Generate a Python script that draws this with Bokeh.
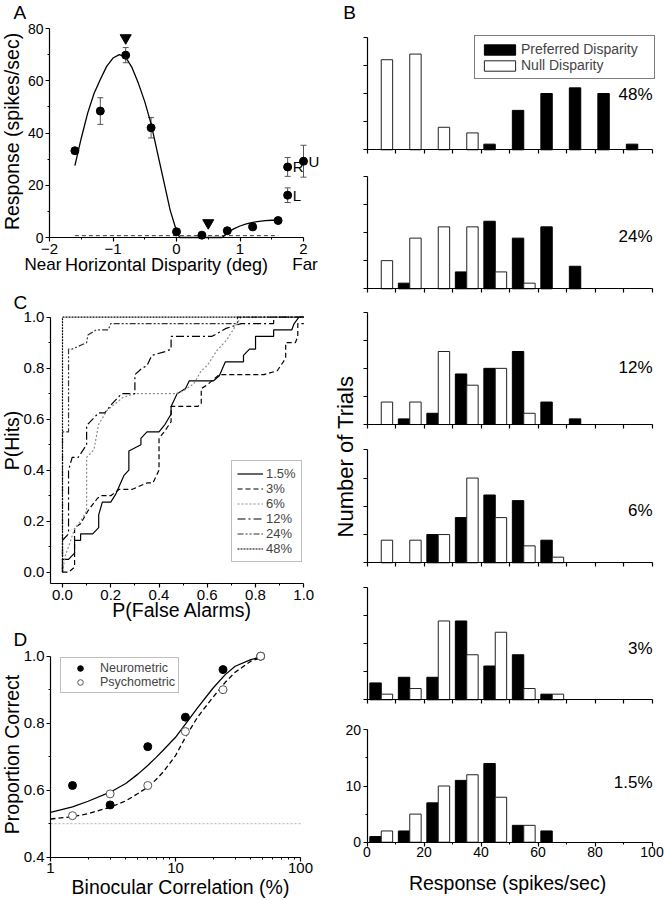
import numpy as np
from bokeh.plotting import figure
from bokeh.layouts import row, column
from bokeh.models import (Range1d, FixedTicker, NumeralTickFormatter, BasicTickFormatter,
                          Label, LabelSet, Legend, LegendItem, Whisker, TeeHead,
                          ColumnDataSource, LinearAxis)
from bokeh.transform import dodge
from bokeh.core.properties import value
from bokeh.embed import file_html
from bokeh.resources import INLINE

FONT = "Liberation Sans"

# ================= Panel A : disparity tuning =================
disparity = [-1.6, -1.2, -0.8, -0.4, 0.0, 0.4, 0.8, 1.2, 1.6]
response = [33.2, 48.4, 69.8, 42.0, 2.2, 0.9, 2.6, 4.1, 6.5]
response_sem = [1.0, 5.1, 2.9, 3.9, 0.8, 0.5, 0.8, 1.2, 0.8]
mono_disp = [1.75, 1.75, 2.0]
mono_resp = [27.0, 16.2, 29.2]
mono_sem = [3.6, 2.8, 6.1]
mono_label = ["R", "L", "U"]
marker_disp = [-0.8, 0.5]
marker_resp = [76.4, 5.6]
fit_disp = [-1.6, -1.5, -1.4, -1.3, -1.2, -1.1, -1.0, -0.9, -0.8, -0.7, -0.6, -0.5, -0.4,
            -0.3, -0.2, -0.1, 0.0, 0.05, 0.72, 0.8, 0.9, 1.0, 1.1, 1.2, 1.3, 1.4, 1.5, 1.6]
fit_resp = [27.5, 38.0, 47.5, 55.0, 60.5, 65.5, 68.7, 70.0, 69.0, 65.0, 59.0, 52.0, 43.5,
            32.5, 21.5, 10.5, 2.5, 0.0, 0.0, 1.8, 3.3, 4.4, 5.2, 5.8, 6.2, 6.45, 6.6, 6.6]
spont_level = 0.7
spont_disp = [-1.6, 1.6]

# ================= Panel B : response histograms =================
bin_center = [5, 15, 25, 35, 45, 55, 65, 75, 85, 95]
pref_48 = [0, 0, 0, 0, 1, 7, 10, 11, 10, 1]
null_48 = [16, 17, 4, 3, 0, 0, 0, 0, 0, 0]
pref_24 = [0, 1, 0, 3, 12, 9, 11, 4, 0, 0]
null_24 = [5, 9, 11, 11, 3, 1, 0, 0, 0, 0]
pref_12 = [0, 1, 2, 9, 10, 13, 4, 1, 0, 0]
null_12 = [4, 4, 13, 7, 10, 2, 0, 0, 0, 0]
pref_6 = [0, 0, 5, 8, 12, 11, 4, 0, 0, 0]
null_6 = [4, 4, 5, 15, 8, 3, 1, 0, 0, 0]
pref_3 = [3, 4, 4, 14, 6, 8, 1, 0, 0, 0]
null_3 = [1, 2, 14, 8, 12, 2, 1, 0, 0, 0]
pref_15 = [1, 2, 7, 11, 14, 3, 2, 0, 0, 0]
null_15 = [2, 5, 10, 12, 8, 3, 0, 0, 0, 0]
hist_labels = ["48%", "24%", "12%", "6%", "3%", "1.5%"]

# ================= Panel C : ROC curves =================
roc_labels = ["1.5%", "3%", "6%", "12%", "24%", "48%"]
roc15_fa = [0, 0, 0.025, 0.05, 0.05, 0.075, 0.075, 0.125, 0.15, 0.15, 0.165, 0.2, 0.22, 0.255,
            0.275, 0.275, 0.325, 0.325, 0.35, 0.4, 0.425, 0.45, 0.45, 0.475, 0.51, 0.525, 0.625,
            0.65, 0.675, 0.75, 0.75, 0.775, 0.8, 0.8, 0.875, 0.875, 0.95, 0.96, 0.98, 1.0]
roc15_hit = [0, 0.05, 0.05, 0.075, 0.125, 0.125, 0.15, 0.15, 0.175, 0.225, 0.275, 0.275, 0.305,
             0.38, 0.4, 0.475, 0.5, 0.525, 0.55, 0.55, 0.58, 0.62, 0.65, 0.7, 0.72, 0.75, 0.75,
             0.77, 0.825, 0.825, 0.85, 0.875, 0.875, 0.925, 0.925, 0.95, 0.95, 0.975, 1.0, 1.0]
roc3_fa = [0, 0.025, 0.05, 0.05, 0.075, 0.105, 0.145, 0.16, 0.2, 0.235, 0.29, 0.325, 0.35, 0.375,
           0.39, 0.4, 0.4, 0.425, 0.45, 0.45, 0.56, 0.575, 0.575, 0.6, 0.65, 0.835, 0.89, 0.915,
           0.925, 0.925, 0.965, 0.975, 0.975, 1.0]
roc3_hit = [0, 0, 0.02, 0.175, 0.19, 0.24, 0.29, 0.3, 0.3, 0.325, 0.325, 0.34, 0.35, 0.35, 0.38,
            0.4, 0.525, 0.555, 0.59, 0.65, 0.65, 0.66, 0.72, 0.735, 0.775, 0.775, 0.79, 0.825,
            0.84, 0.9, 0.9, 0.925, 0.975, 0.975]
roc6_fa = [0, 0.01, 0.025, 0.05, 0.075, 0.1, 0.1, 0.13, 0.15, 0.185, 0.25, 0.3, 0.47, 0.5,
           0.545, 0.575, 0.6, 0.64, 0.68, 0.71, 0.74, 1.0]
roc6_hit = [0, 0.06, 0.1, 0.17, 0.2, 0.24, 0.45, 0.48, 0.58, 0.635, 0.685, 0.7, 0.7, 0.71,
            0.74, 0.79, 0.81, 0.87, 0.91, 0.955, 1.0, 1.0]
roc12_fa = [0, 0, 0.025, 0.025, 0.04, 0.065, 0.1, 0.1, 0.15, 0.175, 0.205, 0.245, 0.3, 0.3,
            0.33, 0.35, 0.37, 0.425, 0.45, 0.45, 0.62, 0.675, 0.74, 0.875, 0.875, 1.0]
roc12_hit = [0, 0.125, 0.15, 0.4, 0.45, 0.45, 0.5, 0.575, 0.625, 0.625, 0.66, 0.7, 0.7, 0.775,
             0.8, 0.81, 0.85, 0.865, 0.875, 0.925, 0.925, 0.955, 0.975, 0.975, 1.0, 1.0]
roc24_fa = [0, 0, 0.025, 0.025, 0.04, 0.1, 0.105, 0.14, 0.19, 0.2, 0.725, 0.725, 1.0]
roc24_hit = [0, 0.55, 0.55, 0.875, 0.875, 0.9, 0.93, 0.95, 0.95, 0.975, 0.975, 1.0, 1.0]
roc48_fa = [0, 0, 1.0]
roc48_hit = [0, 1.0, 1.0]

# ================= Panel D : neurometric / psychometric =================
correlation = [1.5, 3, 6, 12, 24, 48]
neuro_pc = [0.614, 0.556, 0.730, 0.818, 0.960, 1.0]
psycho_pc = [0.524, 0.589, 0.614, 0.775, 0.900, 1.0]
fit_corr = [1, 1.5, 2, 3, 4, 5, 6, 7, 8, 10, 12, 15, 20, 25, 30, 40, 48]
neuro_fit = [0.534, 0.55, 0.567, 0.594, 0.62, 0.648, 0.674, 0.698, 0.72, 0.758, 0.797, 0.846,
             0.905, 0.945, 0.97, 0.99, 0.997]
psycho_fit = [0.514, 0.521, 0.53, 0.549, 0.568, 0.59, 0.609, 0.632, 0.655, 0.703, 0.758, 0.818,
              0.878, 0.922, 0.952, 0.985, 0.995]
corr_axis = [1, 100]
chance = 0.5


# ---------------- helpers ----------------
def lin(p0, p1, v0, v1):
    """map a page pixel coordinate to a data value (layout helper)"""
    return lambda px: v0 + (px - p0) * (v1 - v0) / (p1 - p0)


def style_axis(ax, fs="15px"):
    ax.axis_line_color = "black"
    ax.axis_line_width = 1.2
    ax.major_tick_line_color = "black"
    ax.major_tick_line_width = 1.2
    ax.minor_tick_line_color = "black"
    ax.minor_tick_line_width = 1.0
    ax.major_tick_in = 0
    ax.major_tick_out = 4
    ax.minor_tick_in = 0
    ax.minor_tick_out = 2
    ax.major_label_text_font = FONT
    ax.major_label_text_font_size = fs
    ax.major_label_text_color = "black"
    ax.major_label_standoff = 2


def make_fig(w, h, xr, yr, xlog=False, axes=True):
    kw = dict(width=w, height=h, x_range=Range1d(*xr), y_range=Range1d(*yr),
              toolbar_location=None, output_backend="svg", min_border=0,
              background_fill_color="white", border_fill_color="white", outline_line_color=None)
    if xlog:
        kw["x_axis_type"] = "log"
    if not axes:
        kw["x_axis_location"] = None
        kw["y_axis_location"] = None
    p = figure(**kw)
    p.grid.visible = False
    for ax in p.axis:
        style_axis(ax)
    return p


def add_label(p, x, y, text, size, align="left", baseline="middle", angle=0.0, **kw):
    p.add_layout(Label(x=x, y=y, text=text, text_font=FONT, text_font_size=size,
                       text_align=align, text_baseline=baseline, angle=angle,
                       text_color="black", **kw))


# ================= Panel A (page box 0..330 x 0..290) =================
ax_ = lin(49, 303, -2.0, 2.0)
ay_ = lin(237, 28, 0.0, 80.0)
pA = make_fig(330, 290, (ax_(0), ax_(330)), (ay_(290), ay_(0)))
pA.xaxis.fixed_location = 0
pA.xaxis.bounds = (-2, 2)
pA.yaxis.fixed_location = -2
pA.yaxis.bounds = (0, 80)
pA.xaxis.ticker = FixedTicker(ticks=[-2, -1, 0, 1, 2], minor_ticks=[-1.5, -0.5, 0.5, 1.5])
pA.yaxis.ticker = FixedTicker(ticks=[0, 20, 40, 60, 80], minor_ticks=[10, 30, 50, 70])
pA.xaxis.major_label_text_font_size = "15px"
pA.yaxis.major_label_text_font_size = "14px"

pA.line(spont_disp, [spont_level] * len(spont_disp), line_color="#333333", line_width=1,
        line_dash="4 3")
pA.line(fit_disp, fit_resp, line_color="black", line_width=1.3)
all_x = disparity + mono_disp
all_y = response + mono_resp
all_e = response_sem + mono_sem
err_src = ColumnDataSource(dict(x=all_x, lo=[y - e for y, e in zip(all_y, all_e)],
                                up=[y + e for y, e in zip(all_y, all_e)]))
pA.add_layout(Whisker(source=err_src, base="x", lower="lo", upper="up", dimension="height",
                      line_color="#555555", line_width=1,
                      upper_head=TeeHead(size=6, line_color="#555555", line_width=1),
                      lower_head=TeeHead(size=6, line_color="#555555", line_width=1)))
pA.scatter(disparity, response, size=8, color="black")
pA.scatter(mono_disp, mono_resp, size=8, color="black")
pA.scatter(marker_disp, marker_resp, marker="inverted_triangle", size=11, color="black")
mono_src = ColumnDataSource(dict(x=mono_disp, y=mono_resp, t=mono_label))
pA.add_layout(LabelSet(x="x", y="y", text="t", source=mono_src, x_offset=5,
                       text_font=value(FONT), text_font_size=value("15px"),
                       text_baseline="middle", text_color="black"))
add_label(pA, ax_(13), ay_(11.5), "A", "19px")
add_label(pA, ax_(42.5), ay_(263.5), "Near", "17px", align="center")
add_label(pA, ax_(304.5), ay_(263.5), "Far", "17px", align="center")
add_label(pA, ax_(166), ay_(264.5), "Horizontal Disparity (deg)", "18px", align="center")
add_label(pA, ax_(11), ay_(131), "Response (spikes/sec)", "19.5px", align="center",
          angle=np.pi / 2)

# ================= Panel C (page box 0..330 x 290..622) =================
cx_ = lin(62, 303.3, 0.0, 1.0)
cy_ = lin(571.7, 316.7, 0.0, 1.0)
pC = make_fig(330, 332, (cx_(0), cx_(330)), (cy_(622), cy_(290)))
pC.xaxis.fixed_location = -0.045
pC.yaxis.fixed_location = -0.05
pC.xaxis.bounds = (-0.05, 1.0)
pC.yaxis.bounds = (-0.045, 1.0)
tk = [0, 0.2, 0.4, 0.6, 0.8, 1.0]
mtk = [0.1, 0.3, 0.5, 0.7, 0.9]
pC.xaxis.ticker = FixedTicker(ticks=tk, minor_ticks=mtk)
pC.yaxis.ticker = FixedTicker(ticks=tk, minor_ticks=mtk)
pC.xaxis.formatter = NumeralTickFormatter(format="0.0")
pC.yaxis.formatter = NumeralTickFormatter(format="0.0")

roc_series = [(roc15_fa, roc15_hit, "black", "solid"),
              (roc3_fa, roc3_hit, "black", "5 3"),
              (roc6_fa, roc6_hit, "#8c8c8c", "2 2"),
              (roc12_fa, roc12_hit, "black", "8 3 2 3"),
              (roc24_fa, roc24_hit, "#333333", "6 2 2 2 2 2"),
              (roc48_fa, roc48_hit, "black", "2 1")]
roc_items = []
for (fa, hit, col, dash), lab in zip(roc_series, roc_labels):
    r = pC.line(fa, hit, line_color=col, line_width=1.2, line_dash=dash)
    roc_items.append(LegendItem(label=lab, renderers=[r]))
legC = Legend(items=roc_items, location=(231, 60), padding=5, spacing=0, margin=0,
              glyph_width=26, glyph_height=15, label_height=15, label_standoff=3,
              label_text_font=FONT, label_text_font_size="13px",
              border_line_color="#808080", border_line_width=1.3)
pC.add_layout(legC)
add_label(pC, cx_(13), cy_(301.5), "C", "19px")
add_label(pC, cx_(181.7), cy_(609.5), "P(False Alarms)", "19.5px", align="center")
add_label(pC, cx_(11), cy_(440), "P(Hits)", "19.5px", align="center", angle=np.pi / 2)

# ================= Panel D (page box 0..330 x 622..900) =================
dlog_ = lin(50, 300, 0.0, 2.0)
dx_ = lambda px: 10 ** dlog_(px)
dy_ = lin(856.7, 655.7, 0.4, 1.0)
pD = make_fig(330, 278, (dx_(0), dx_(330)), (dy_(900), dy_(622)), xlog=True)
pD.xaxis.fixed_location = 0.4
pD.yaxis.fixed_location = 1
pD.xaxis.bounds = (1, 100)
pD.yaxis.bounds = (0.4, 1.0)
pD.xaxis.ticker = FixedTicker(ticks=[1, 10, 100],
                              minor_ticks=[2, 3, 4, 5, 6, 7, 8, 9, 20, 30, 40, 50, 60, 70, 80, 90])
pD.xaxis.formatter = BasicTickFormatter()
pD.yaxis.ticker = FixedTicker(ticks=[0.4, 0.6, 0.8, 1.0], minor_ticks=[0.5, 0.7, 0.9])
pD.yaxis.formatter = NumeralTickFormatter(format="0.0")
pD.line(corr_axis, [chance] * len(corr_axis), line_color="#b0b0b0", line_width=1,
        line_dash="2 2")
pD.line(fit_corr, neuro_fit, line_color="black", line_width=1.3)
pD.line(fit_corr, psycho_fit, line_color="black", line_width=1.3, line_dash="5 3")
rn = pD.scatter(correlation, neuro_pc, size=8, fill_color="black", line_color="black")
rp = pD.scatter(correlation, psycho_pc, size=8, fill_color="white", line_color="#555555")
legD = Legend(items=[LegendItem(label="Neurometric", renderers=[rn]),
                     LegendItem(label="Psychometric", renderers=[rp])],
              location=(60, 207), padding=3, spacing=0, margin=0,
              glyph_width=32, glyph_height=14, label_height=14, label_standoff=4,
              label_text_font=FONT, label_text_font_size="12.5px",
              border_line_color="#808080", border_line_width=1.3)
pD.add_layout(legD)
add_label(pD, dx_(13), dy_(638.5), "D", "19px")
add_label(pD, dx_(180), dy_(886.5), "Binocular Correlation (%)", "19.5px", align="center")
add_label(pD, dx_(11), dy_(754), "Proportion Correct", "19.5px", align="center",
          angle=np.pi / 2)

# ================= Panel B (page box 330..664 x 0..900, one figure) =================
# default ranges = page pixels (used for texts); each histogram has its own named ranges
pR = make_fig(334, 900, (330, 664), (900, 0), axes=False)
hx_ = lin(366.5, 651.5, 0.0, 100.0)
hist_data = [(pref_48, null_48), (pref_24, null_24), (pref_12, null_12),
             (pref_6, null_6), (pref_3, null_3), (pref_15, null_15)]
# page y of each histogram's top (20 trials) and baseline (0 trials)
hist_frame = [(36.7, 149.3), (175.7, 288.3), (311.7, 424.0),
              (449.3, 562.3), (586.7, 699.3), (729.3, 841.7)]
hist_label_y = [94, 236, 366.7, 510, 648, 782]
pR.extra_x_ranges = {"hx": Range1d(hx_(330), hx_(664))}
yranges = {}
for k, (top, base) in enumerate(hist_frame):
    hy_ = lin(base, top, 0.0, 20.0)
    yranges["h%d" % k] = Range1d(hy_(900), hy_(0))
pR.extra_y_ranges = yranges

cen = np.array(bin_center, dtype=float)
for k, ((pref, null), lab) in enumerate(zip(hist_data, hist_labels)):
    name = "h%d" % k
    bottom = (k == len(hist_data) - 1)
    xa = LinearAxis(x_range_name="hx", y_range_name=name, fixed_location=0, bounds=(0, 100))
    ya = LinearAxis(x_range_name="hx", y_range_name=name, fixed_location=0, bounds=(0, 20))
    style_axis(xa, "14px")
    style_axis(ya, "14px")
    if bottom:
        xa.ticker = FixedTicker(ticks=[0, 20, 40, 60, 80, 100], minor_ticks=[10, 30, 50, 70, 90])
        ya.ticker = FixedTicker(ticks=[0, 10, 20], minor_ticks=[5, 15])
        xa.major_label_standoff = 1
    else:
        xa.ticker = FixedTicker(ticks=[], minor_ticks=[0, 10, 20, 30, 40, 50, 60, 70, 80, 90, 100])
        ya.ticker = FixedTicker(ticks=[], minor_ticks=[0, 5, 10, 15, 20])
        for a in (xa, ya):
            a.minor_tick_out = 4
            a.minor_tick_line_width = 1.2
    pR.add_layout(xa, "below")
    pR.add_layout(ya, "left")
    pv = np.array(pref)
    nv = np.array(null)
    sp = ColumnDataSource(dict(x=cen[pv > 0], top=pv[pv > 0]))
    sn = ColumnDataSource(dict(x=cen[nv > 0], top=nv[nv > 0]))
    rb = pR.vbar(x=dodge("x", -2.0), top="top", width=4, source=sp, x_range_name="hx",
                 y_range_name=name, fill_color="black", line_color="black", line_width=1)
    rw = pR.vbar(x=dodge("x", 2.0), top="top", width=4, source=sn, x_range_name="hx",
                 y_range_name=name, fill_color="white", line_color="#222222", line_width=1)
    add_label(pR, 652, hist_label_y[k], lab, "17px", align="right")
    if k == 0:
        legB = Legend(items=[LegendItem(label="Preferred Disparity", renderers=[rb]),
                             LegendItem(label="Null Disparity", renderers=[rw])],
                      location=(144, 821), margin=0, padding=5, spacing=0,
                      glyph_width=39, glyph_height=13, label_height=16, label_standoff=2,
                      label_width=128,
                      label_text_font=FONT, label_text_font_size="14px",
                      border_line_color="black", border_line_width=1)
        pR.add_layout(legB)

add_label(pR, 342.7, 11.5, "B", "19px")
add_label(pR, 507, 882.5, "Response (spikes/sec)", "19.5px", align="center")
add_label(pR, 345, 456, "Number of Trials", "22px", align="center", angle=np.pi / 2)

root = row(column(pA, pC, pD), pR)

with open("out.html", "w") as f:
    f.write(file_html(root, INLINE, "Disparity figure"))
